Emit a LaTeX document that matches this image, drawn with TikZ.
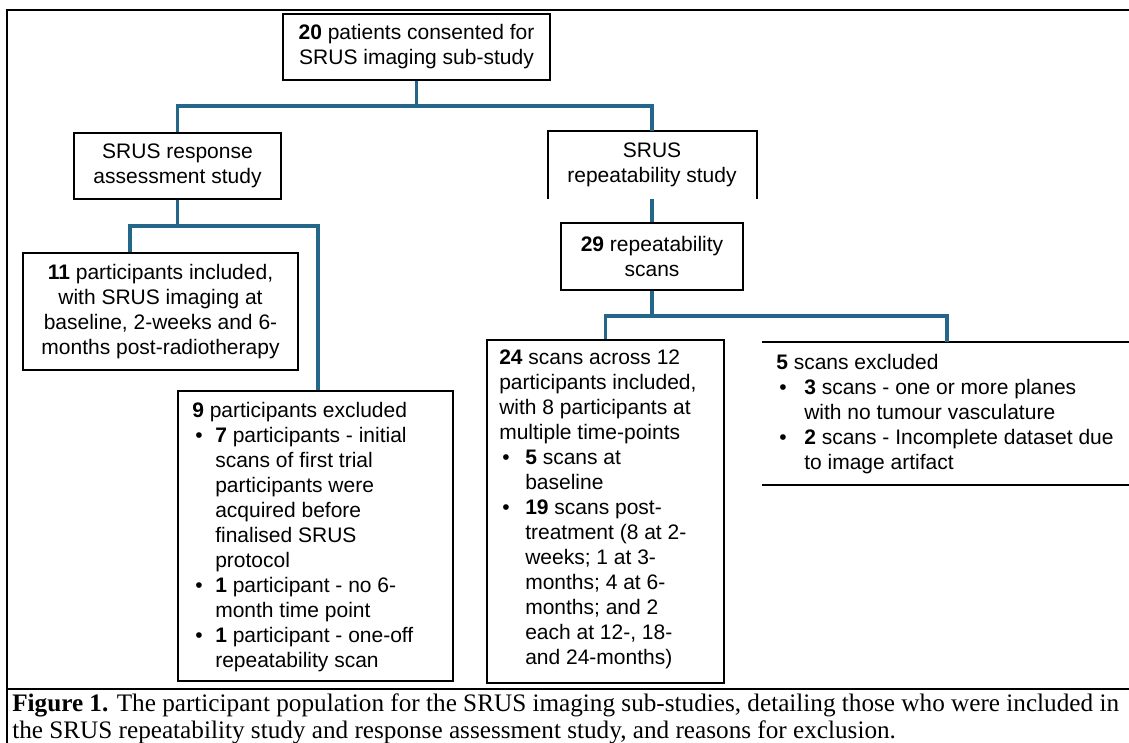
\documentclass[tikz,border=0pt]{standalone}
\usepackage{xcolor}
\usepackage{fontspec}
\setmainfont{Liberation Sans}
\newfontfamily\captionfont{Liberation Serif}

\newlength{\px}
\setlength{\px}{0.75pt}
\newlength{\bulw}
\setlength{\bulw}{26\px}
\newcommand{\bul}{\makebox[\bulw][l]{\hspace{3\px}\textbullet}}
\newcommand{\ind}{\hspace*{\bulw}}

\definecolor{linkblue}{RGB}{36, 103, 138}

\tikzset{
  box/.style = {draw, line width = 1.5pt, inner sep = 0pt, align = center, font = \fontsize{15.75}{18.75}\selectfont},
  frame/.style = {draw, line width = 1.5pt, inner sep = 0pt},
  list/.style = {anchor = north west, inner sep = 0pt, align = left, font = \fontsize{15.75}{18.75}\selectfont},
  link/.style = {draw = linkblue, line width = 2.4pt}
}

\begin{document}
\begin{tikzpicture}[x = 0.75pt, y = -0.75pt]
      \useasboundingbox (0, 0) rectangle (1129, 743);
      \draw [line width = 1.5pt] (7, 743) -- (7, 10) -- (1129, 10);
      \draw [line width = 1.5pt] (7, 689) -- (1129, 689);

      \node [box, minimum width = 267\px, minimum height = 66\px] (consent) at (416.5, 47) {\textbf{20} patients consented for\\SRUS imaging sub-study};
      \node [box, minimum width = 207\px, minimum height = 66\px] (response) at (177.5, 166) {SRUS response\\assessment study};
      \node [box, draw = none, minimum width = 207\px, minimum height = 66\px] (repeat) at (652, 165) {SRUS\\repeatability study};
      \draw [line width = 1.5pt] (repeat.south west) -- (repeat.north west) -- (repeat.north east) -- (repeat.south east);
      \node [box, minimum width = 182\px, minimum height = 67\px] (scans) at (652, 256.5) {\textbf{29} repeatability\\scans};
      \node [box, minimum width = 275\px, minimum height = 117\px] (included) at (160.5, 311.5) {\textbf{11} participants included,\\with SRUS imaging at\\baseline, 2-weeks and 6-\\months post-radiotherapy};

      \node [frame, minimum width = 275\px, minimum height = 290\px] (excluded) at (315.5, 536) {};
      \node [list, execute at begin node = \setlength{\bulw}{23\px}] (excludedtext) at ([xshift = 15\px, yshift = -12\px]excluded.north west) {\textbf{9} participants excluded\\
        \bul\textbf{7} participants - initial\\
        \ind scans of first trial\\
        \ind participants were\\
        \ind acquired before\\
        \ind finalised SRUS\\
        \ind protocol\\
        \bul\textbf{1} participant - no 6-\\
        \ind month time point\\
        \bul\textbf{1} participant - one-off\\
        \ind repeatability scan};

      \node [frame, minimum width = 237\px, minimum height = 343\px] (kept) at (605.5, 511.5) {};
      \node [list] (kepttext) at ([xshift = 13\px, yshift = -11\px]kept.north west) {\textbf{24} scans across 12\\
        participants included,\\
        with 8 participants at\\
        multiple time-points\\
        \bul\textbf{5} scans at\\
        \ind baseline\\
        \bul\textbf{19} scans post-\\
        \ind treatment (8 at 2-\\
        \ind weeks; 1 at 3-\\
        \ind months; 4 at 6-\\
        \ind months; and 2\\
        \ind each at 12-, 18-\\
        \ind and 24-months)};

      \node [frame, draw = none, minimum width = 368\px, minimum height = 141\px] (dropped) at (947, 413.5) {};
      \draw [line width = 1.2pt] (dropped.north west) -- (dropped.north east);
      \draw [line width = 1.2pt] (dropped.south west) -- (dropped.south east);
      \node [list, execute at begin node = \setlength{\bulw}{28\px}] (droppedtext) at ([xshift = 14\px, yshift = -12\px]dropped.north west) {\textbf{5} scans excluded\\
        \bul\textbf{3} scans - one or more planes\\
        \ind with no tumour vasculature\\
        \bul\textbf{2} scans - Incomplete dataset due\\
        \ind to image artifact};

      \coordinate (split1) at ([yshift = -25\px]consent.south);
      \coordinate (split2) at ([yshift = -26\px]response.south);
      \coordinate (split3) at ([yshift = -25\px]scans.south);
      \draw [link] (consent.south) -- (split1) -| (response.north);
      \draw [link] (split1) -| (repeat.north);
      \draw [link] (response.south) -- (split2) -| ([xshift = -30.5\px]included.north);
      \draw [link] (split2) -| ([xshift = 2.5\px]excluded.north);
      \draw [link] (repeat.south) -- (scans.north);
      \draw [link] (scans.south) -- (split3) -| (kept.north);
      \draw [link] (split3) -| (dropped.north);

      \node [anchor = north west, inner sep = 0pt, align = left, font = \captionfont\fontsize{18.9}{20.5}\selectfont] (caption) at (12, 693) {\textbf{Figure 1.} The participant population for the SRUS imaging sub-studies, detailing those who were included in\\the SRUS repeatability study and response assessment study, and reasons for exclusion.};
    \end{tikzpicture}
\end{document}
